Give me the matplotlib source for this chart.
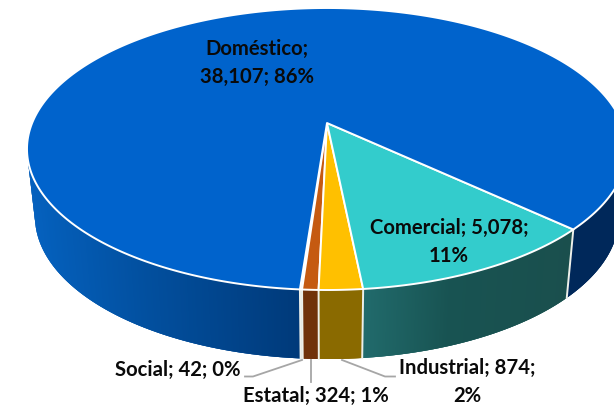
import numpy as np
import matplotlib
matplotlib.use('Agg')
import matplotlib.pyplot as plt
from matplotlib.colors import to_rgb

# front slices first, going left to right along the front of the pie
categories = ['Social', 'Estatal', 'Industrial', 'Comercial', 'Doméstico']
values = [42, 324, 874, 5078, 38107]
top_colors = ['#a5a5a5', '#c55a11', '#ffc000', '#33cccc', '#0063cc']

START_DEG = -4.3  # angle of the first slice, measured from straight down

# pixel layout of the fake 3D pie
CX, CY, RX, RY = 327, 149, 300, 141
BX, BY, BRX, BRY = 327, 216.5, 292, 142.5
APEX_Y = 123
V0 = (APEX_Y - CY) / RY


def rim(phi):
    # perspective map: circle angle -> point on the unit ellipse, centre goes to the apex
    c, s = np.sin(phi), np.cos(phi)
    d = 1 + V0 * s
    return c * np.sqrt(1 - V0 ** 2) / d, (s + V0) / d


def wall_color(name, x):
    stops = {
        'Social': [(300, '#d9dcd6'), (304, '#d9dcd6')],
        'Estatal': [(303, '#70320a'), (318, '#70320a')],
        'Industrial': [(318, '#8a6a00'), (363, '#8a6a00')],
        'Comercial': [(363, '#216b6c'), (450, '#185352'), (574, '#1a4f4d')],
        'Doméstico': [(27, '#0562c0'), (150, '#024f9e'), (300, '#003a7a'),
                      (574, '#00285a'), (620, '#00285a')],
    }[name]
    xs = [p[0] for p in stops]
    rgb = np.array([to_rgb(p[1]) for p in stops])
    return tuple(np.interp(x, xs, rgb[:, i]) for i in range(3))


fractions = np.array(values) / sum(values)
edges = np.radians(START_DEG) + np.concatenate([[0], np.cumsum(fractions)]) * 2 * np.pi

fig = plt.figure(figsize=(6.14, 4.05), dpi=100)
ax = fig.add_axes([0, 0, 1, 1])
ax.set_xlim(0, 614)
ax.set_ylim(405, 0)
ax.axis('off')

# side walls: a flat base for each visible run, then thin stripes for the shading
# every stripe runs on over the next one, the next paints over it, so no seams show
for name, a, b in zip(categories, edges[:-1], edges[1:]):
    phi = np.linspace(a, b, max(3, int((b - a) * 300)))
    u, v = rim(phi)
    keep = v >= -0.002
    breaks = np.flatnonzero(np.diff(keep.astype(int)))
    bounds = np.concatenate([[0], breaks + 1, [len(phi)]])
    for s, e in zip(bounds[:-1], bounds[1:]):
        if not keep[s]:
            continue
        xs = np.concatenate([CX + RX * u[s:e], (BX + BRX * u[s:e])[::-1]])
        ys = np.concatenate([CY + RY * v[s:e], (BY + BRY * v[s:e])[::-1]])
        ax.fill(xs, ys, color=wall_color(name, xs.min()), lw=0, zorder=1)
    for i in range(len(phi) - 1):
        if not keep[i] and not keep[i + 1]:
            continue
        j = min(i + 2, len(phi) - 1)
        if not keep[j]:
            j = i + 1
        xs = [CX + RX * u[i], CX + RX * u[j], BX + BRX * u[j], BX + BRX * u[i]]
        ys = [CY + RY * v[i], CY + RY * v[j], BY + BRY * v[j], BY + BRY * v[i]]
        col = wall_color(name, np.mean(xs))
        ax.fill(xs, ys, color=col, lw=0, zorder=2)

# white seams between the walls
for a in edges[:-1]:
    u, v = rim(a)
    ax.plot([CX + RX * u, BX + BRX * u], [CY + RY * v, BY + BRY * v],
            color='#eef0ea', lw=1.4, zorder=3)

# top face
for name, col, a, b in zip(categories, top_colors, edges[:-1], edges[1:]):
    phi = np.linspace(a, b, max(3, int((b - a) * 200)))
    u, v = rim(phi)
    xs = np.concatenate([[CX], CX + RX * u])
    ys = np.concatenate([[APEX_Y], CY + RY * v])
    ax.fill(xs, ys, facecolor=col, edgecolor='white', lw=1.4, joinstyle='round', zorder=4)

# leader lines
leader = '#a6a6a6'
ax.plot([302, 253, 245], [360, 376.5, 376.5], color=leader, lw=1.3, zorder=5)
ax.plot([311, 311], [360, 382], color=leader, lw=1.3, zorder=5)
ax.plot([342, 385, 395], [360, 376.5, 376.5], color=leader, lw=1.3, zorder=5)

total = sum(values)
pct = {c: f'{round(100 * x / total)}%' for c, x in zip(categories, values)}
val = dict(zip(categories, values))
font = dict(family='Lato', fontweight='bold', fontsize=14.6, color='#0a0a0a',
            ha='center', va='center', linespacing=1.48, zorder=6)

ax.text(257, 63, f"Doméstico;\n{val['Doméstico']:,}; {pct['Doméstico']}", **font)
ax.text(449, 242, f"Comercial; {val['Comercial']:,};\n{pct['Comercial']}", **font)
ax.text(467, 382, f"Industrial; {val['Industrial']:,};\n{pct['Industrial']}", **font)
ax.text(316, 396, f"Estatal; {val['Estatal']:,}; {pct['Estatal']}", **font)
ax.text(178, 370, f"Social; {val['Social']:,}; {pct['Social']}", **font)

fig.savefig('out.png', dpi=100)
